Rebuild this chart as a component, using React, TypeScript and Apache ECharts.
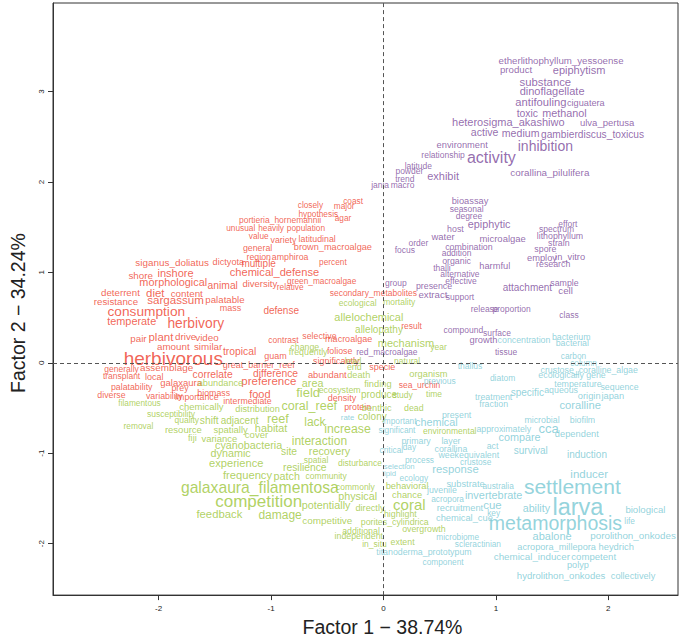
import React, { useEffect, useRef } from 'react';
import * as echarts from 'echarts';

const FONT = '"Liberation Sans", Arial, Helvetica, sans-serif';

// [word, factor1, factor2, weight]
type W = [string, number, number, number];

const purpleWords: W[] = [
  ['etherlithophyllum_yessoense', 1.58, 3.34, 9.7],
  ['product', 1.18, 3.24, 9.7],
  ['epiphytism', 1.74, 3.24, 11],
  ['substance', 1.44, 3.11, 11.3],
  ['dinoflagellate', 1.5, 3.01, 11],
  ['antifouling', 1.4, 2.89, 11.2],
  ['ciguatera', 1.8, 2.87, 9.2],
  ['toxic', 1.28, 2.76, 10.4],
  ['methanol', 1.61, 2.76, 10.8],
  ['heterosigma_akashiwo', 1.11, 2.66, 11],
  ['ulva_pertusa', 1.99, 2.66, 9.5],
  ['active', 0.9, 2.55, 10.6],
  ['medium', 1.22, 2.54, 10.6],
  ['gambierdiscus_toxicus', 1.86, 2.52, 10.2],
  ['environment', 0.7, 2.41, 9.3],
  ['inhibition', 1.44, 2.4, 14],
  ['activity', 0.96, 2.27, 16],
  ['corallina_pilulifera', 1.48, 2.11, 9.9],
  ['relationship', 0.53, 2.3, 8.5],
  ['latitude', 0.31, 2.18, 8.5],
  ['powder', 0.23, 2.12, 8.5],
  ['trend', 0.19, 2.03, 8.5],
  ['exhibit', 0.53, 2.07, 11],
  ['jania', -0.03, 1.97, 8.5],
  ['macro', 0.17, 1.97, 8.5],
  ['bioassay', 0.77, 1.79, 9.3],
  ['seasonal', 0.74, 1.7, 8.5],
  ['degree', 0.76, 1.62, 8.5],
  ['epiphytic', 0.94, 1.53, 10.8],
  ['host', 0.64, 1.48, 8.8],
  ['effort', 1.64, 1.53, 8.5],
  ['spectrum', 1.54, 1.48, 8.5],
  ['lithophyllum', 1.57, 1.4, 8.8],
  ['water', 0.53, 1.4, 9.5],
  ['microalgae', 1.06, 1.37, 9.5],
  ['strain', 1.56, 1.32, 8.8],
  ['order', 0.31, 1.33, 8.5],
  ['combination', 0.76, 1.28, 8.8],
  ['focus', 0.19, 1.25, 8.5],
  ['spore', 1.44, 1.26, 8.8],
  ['addition', 0.65, 1.21, 8.5],
  ['employ', 1.41, 1.16, 9.3],
  ['in_vitro', 1.66, 1.17, 9.3],
  ['organic', 0.65, 1.13, 8.8],
  ['research', 1.51, 1.09, 8.8],
  ['thalli', 0.52, 1.05, 8.5],
  ['harmful', 0.99, 1.07, 9.3],
  ['alternative', 0.68, 0.98, 8.5],
  ['effective', 0.69, 0.9, 8.5],
  ['group', 0.11, 0.88, 8.5],
  ['presence', 0.45, 0.85, 8.8],
  ['sample', 1.61, 0.88, 8.8],
  ['attachment', 1.28, 0.83, 10],
  ['cell', 1.62, 0.8, 9.7],
  ['extract', 0.44, 0.76, 9.7],
  ['support', 0.68, 0.73, 8.5],
  ['release', 0.9, 0.6, 8.5],
  ['proportion', 1.14, 0.6, 8.5],
  ['class', 1.65, 0.53, 8.5],
  ['compound', 0.71, 0.36, 8.5],
  ['surface', 1.01, 0.33, 8.5],
  ['growth', 0.89, 0.25, 9.3],
  ['tissue', 1.09, 0.12, 8.5],
  ['red_macroalgae', 0.03, 0.12, 8.5],
];

const redWords: W[] = [
  ['result', 0.25, 0.41, 8.5],
  ['specie', -0.01, -0.05, 9],
  ['sea_urchin', 0.32, -0.25, 8.5],
  ['portieria_hornemannii', -0.92, 1.58, 8.5],
  ['unusual', -1.27, 1.49, 8.3],
  ['heavily', -1.0, 1.49, 8.3],
  ['population', -0.69, 1.49, 8.3],
  ['value', -1.11, 1.4, 8.3],
  ['variety', -0.89, 1.36, 8.8],
  ['latitudinal', -0.59, 1.37, 8.8],
  ['general', -1.12, 1.27, 8.8],
  ['brown_macroalgae', -0.45, 1.28, 9.2],
  ['region', -1.11, 1.17, 8.8],
  ['amphiroa', -0.83, 1.17, 8.8],
  ['multiple', -1.11, 1.1, 10],
  ['dictyota', -1.38, 1.11, 9.2],
  ['siganus_doliatus', -1.88, 1.11, 9.9],
  ['percent', -0.45, 1.11, 8.3],
  ['chemical_defense', -0.97, 1.0, 11.1],
  ['closely', -0.65, 1.74, 8.3],
  ['hypothesis', -0.58, 1.65, 8.3],
  ['coast', -0.27, 1.79, 8.3],
  ['major', -0.35, 1.73, 8.3],
  ['agar', -0.36, 1.6, 8.3],
  ['shore', -2.16, 0.97, 9.8],
  ['inshore', -1.85, 0.99, 11],
  ['morphological', -1.87, 0.89, 10.9],
  ['animal', -1.43, 0.85, 10.3],
  ['diversity', -1.1, 0.88, 9.5],
  ['green_macroalgae', -0.55, 0.91, 8.3],
  ['relative', -0.83, 0.84, 8.3],
  ['deterrent', -2.34, 0.78, 9.7],
  ['diet', -2.03, 0.77, 11.4],
  ['content', -1.75, 0.77, 9.8],
  ['resistance', -2.38, 0.68, 9.7],
  ['sargassum', -1.85, 0.7, 11.6],
  ['palatable', -1.41, 0.7, 9.7],
  ['mass', -1.36, 0.61, 9],
  ['defense', -0.91, 0.58, 10],
  ['secondary_metabolites', -0.09, 0.77, 8.5],
  ['consumption', -2.11, 0.57, 13.7],
  ['temperate', -2.24, 0.46, 10.9],
  ['herbivory', -1.67, 0.43, 13.8],
  ['pair', -2.18, 0.27, 9.8],
  ['plant', -1.98, 0.29, 11.5],
  ['drive', -1.76, 0.29, 9.8],
  ['video', -1.57, 0.28, 9.8],
  ['amount', -1.87, 0.18, 9.8],
  ['similar', -1.56, 0.18, 9.8],
  ['tropical', -1.28, 0.13, 10.3],
  ['herbivorous', -1.87, 0.05, 19],
  ['generally', -2.33, -0.07, 8.5],
  ['assemblage', -1.93, -0.05, 9.9],
  ['transplant', -2.33, -0.15, 8.5],
  ['local', -2.04, -0.16, 9],
  ['correlate', -1.52, -0.13, 10.3],
  ['great_barrier_reef', -1.11, -0.03, 9],
  ['difference', -0.96, -0.12, 10.3],
  ['galaxaura', -1.8, -0.22, 9.5],
  ['preference', -1.02, -0.2, 11.5],
  ['palatability', -2.24, -0.27, 8.8],
  ['prey', -1.81, -0.28, 8.8],
  ['diverse', -2.42, -0.36, 8.8],
  ['variability', -1.95, -0.37, 8.8],
  ['importance', -1.66, -0.38, 8.8],
  ['biomass', -1.51, -0.33, 8.8],
  ['food', -1.1, -0.34, 11],
  ['intermediate', -1.21, -0.42, 8.8],
  ['selective', -0.57, 0.3, 8.8],
  ['contrast', -0.89, 0.25, 8.5],
  ['macroalgae', -0.31, 0.26, 9],
  ['foliose', -0.39, 0.13, 8.8],
  ['guam', -0.96, 0.08, 9],
  ['significantly', -0.42, 0.02, 9],
  ['abundant', -0.5, -0.13, 9.3],
  ['density', -0.37, -0.39, 9],
  ['protein', -0.23, -0.49, 8.8],
];

const greenWords: W[] = [
  ['ecological', -0.23, 0.66, 8.5],
  ['mortality', 0.14, 0.67, 8.5],
  ['allelochemical', -0.13, 0.51, 11],
  ['allelopathy', -0.04, 0.37, 10],
  ['mechanism', 0.2, 0.22, 11],
  ['year', 0.49, 0.18, 8.5],
  ['natural', 0.21, 0.02, 8.5],
  ['organism', 0.4, -0.12, 9.3],
  ['finding', -0.05, -0.24, 9.3],
  ['study', 0.17, -0.36, 8.5],
  ['time', 0.45, -0.35, 8.5],
  ['produce', -0.04, -0.35, 10],
  ['benthic', -0.06, -0.5, 9.3],
  ['dead', 0.27, -0.5, 8.8],
  ['colony', -0.1, -0.59, 10],
  ['environmental', 0.59, -0.76, 8.5],
  ['behavioral', 0.21, -1.36, 9.3],
  ['chance', 0.21, -1.46, 9.3],
  ['coral', 0.23, -1.57, 15],
  ['highlight', 0.15, -1.67, 8.8],
  ['porites_cylindrica', 0.1, -1.76, 8.8],
  ['overgrowth', 0.36, -1.84, 8.8],
  ['extent', 0.17, -1.98, 8.8],
  ['in_situ', -0.08, -2.0, 8.5],
  ['independent', -0.22, -1.92, 8.8],
  ['additional', -0.2, -1.86, 8.8],
  ['abundance', -1.45, -0.22, 9.2],
  ['filamentous', -2.17, -0.45, 8.3],
  ['chemically', -1.62, -0.48, 9.5],
  ['distribution', -1.12, -0.51, 9.2],
  ['susceptibility', -1.89, -0.57, 8.5],
  ['quality', -1.75, -0.63, 8.5],
  ['shift', -1.55, -0.64, 10.3],
  ['adjacent', -1.28, -0.64, 10],
  ['removal', -2.18, -0.7, 8.4],
  ['resource', -1.78, -0.74, 9.5],
  ['spatially', -1.36, -0.74, 9.5],
  ['fiji', -1.7, -0.83, 9.2],
  ['variance', -1.46, -0.84, 9.5],
  ['cover', -1.13, -0.79, 9.5],
  ['habitat', -1.0, -0.72, 10.8],
  ['reef', -0.94, -0.62, 12.6],
  ['cyanobacteria', -1.2, -0.91, 10.8],
  ['dynamic', -1.36, -1.0, 10.8],
  ['experience', -1.31, -1.11, 11.1],
  ['frequency', -1.21, -1.24, 11.2],
  ['galaxaura_filamentosa', -1.1, -1.38, 15.7],
  ['competition', -1.11, -1.53, 17],
  ['feedback', -1.46, -1.67, 11.3],
  ['damage', -0.92, -1.68, 12],
  ['site', -0.84, -0.98, 10.3],
  ['recovery', -0.48, -0.98, 10.8],
  ['interaction', -0.57, -0.87, 12],
  ['spatial', -0.6, -1.08, 8.5],
  ['disturbance', -0.21, -1.11, 8.5],
  ['resilience', -0.7, -1.16, 10.3],
  ['patch', -0.86, -1.25, 10.8],
  ['community', -0.51, -1.25, 8.5],
  ['commonly', -0.25, -1.37, 8.5],
  ['physical', -0.23, -1.47, 10.8],
  ['potentially', -0.51, -1.57, 10.8],
  ['directly', -0.12, -1.61, 9.2],
  ['competitive', -0.5, -1.75, 9.9],
  ['change', -0.7, 0.18, 8.8],
  ['frequently', -0.67, 0.12, 8.8],
  ['lead', -0.27, 0.02, 8.8],
  ['end', -0.26, -0.05, 8.8],
  ['death', -0.22, -0.14, 9.2],
  ['area', -0.63, -0.22, 10.8],
  ['field', -0.67, -0.33, 13],
  ['ecosystem', -0.39, -0.3, 8.8],
  ['coral_reef', -0.66, -0.48, 12.5],
  ['lack', -0.61, -0.65, 12],
  ['increase', -0.32, -0.73, 12.3],
];

const cyanWords: W[] = [
  ['concentration', 1.25, 0.25, 8.8],
  ['thallus', 0.77, -0.04, 8.5],
  ['previous', 0.5, -0.2, 8.5],
  ['diatom', 1.06, -0.17, 8.5],
  ['specific', 1.28, -0.33, 10],
  ['treatment', 0.98, -0.38, 8.8],
  ['fraction', 0.98, -0.46, 8.8],
  ['present', 0.65, -0.58, 8.8],
  ['important', 0.14, -0.64, 8.3],
  ['chemical', 0.47, -0.65, 10.8],
  ['microbial', 1.41, -0.63, 8.8],
  ['rate', -0.32, -0.6, 7.8],
  ['significant', 0.12, -0.74, 8.3],
  ['approximately', 1.07, -0.73, 8.8],
  ['cca', 1.47, -0.73, 13],
  ['compare', 1.21, -0.82, 10.8],
  ['primary', 0.29, -0.86, 8.8],
  ['layer', 0.6, -0.86, 8.8],
  ['day', 0.23, -0.93, 8.3],
  ['corallina', 0.6, -0.95, 8.8],
  ['act', 0.97, -0.92, 8.8],
  ['survival', 1.31, -0.97, 10],
  ['critical', 0.07, -0.97, 8.3],
  ['process', 0.32, -1.07, 8.3],
  ['week', 0.58, -1.02, 8.8],
  ['equivalent', 0.85, -1.02, 8.8],
  ['crustose', 0.82, -1.1, 8.3],
  ['selection', 0.14, -1.15, 7.8],
  ['lipid', 0.05, -1.22, 7.8],
  ['response', 0.64, -1.18, 11.3],
  ['ecology', 0.27, -1.28, 8.3],
  ['substrate', 0.73, -1.34, 9.3],
  ['australia', 1.02, -1.36, 8.3],
  ['juvenile', 0.52, -1.41, 8.8],
  ['invertebrate', 0.98, -1.46, 10.9],
  ['acropora', 0.57, -1.51, 8.3],
  ['cue', 0.97, -1.57, 11.4],
  ['ability', 1.36, -1.61, 10.7],
  ['recruitment', 0.68, -1.61, 9.3],
  ['key', 0.98, -1.66, 8.3],
  ['chemical_cue', 0.72, -1.72, 9.3],
  ['metamorphosis', 1.53, -1.77, 19.5],
  ['microbiome', 0.66, -1.93, 8.3],
  ['scleractinian', 0.84, -2.0, 8.3],
  ['abalone', 1.5, -1.92, 11],
  ['porolithon_onkodes', 2.22, -1.91, 9.8],
  ['titanoderma_prototypum', 0.36, -2.09, 8.8],
  ['acropora_millepora', 1.54, -2.04, 9.2],
  ['heydrich', 2.07, -2.03, 9.4],
  ['chemical_inducer', 1.32, -2.14, 9.8],
  ['competent', 1.87, -2.14, 9.6],
  ['component', 0.53, -2.2, 8.3],
  ['polyp', 1.73, -2.24, 9.2],
  ['hydrolithon_onkodes', 1.58, -2.35, 9.6],
  ['collectively', 2.22, -2.36, 9.2],
  ['settlement', 1.68, -1.37, 21],
  ['larva', 1.73, -1.59, 23.5],
  ['biological', 2.33, -1.62, 9.6],
  ['life', 2.19, -1.75, 8.3],
  ['inducer', 1.83, -1.23, 11.5],
  ['induction', 1.81, -1.02, 10],
  ['bacterium', 1.67, 0.28, 8.8],
  ['bacterial', 1.68, 0.22, 8.8],
  ['carbon', 1.69, 0.07, 8.3],
  ['column', 1.78, 0.0, 8.3],
  ['crustose_coralline_algae', 1.83, -0.08, 8.8],
  ['ecologically', 1.58, -0.14, 8.8],
  ['gene', 1.89, -0.14, 8.8],
  ['temperature', 1.73, -0.24, 8.8],
  ['sequence', 2.1, -0.27, 8.8],
  ['aqueous', 1.58, -0.3, 8.8],
  ['origin', 1.83, -0.37, 9.3],
  ['japan', 2.04, -0.37, 9.3],
  ['coralline', 1.75, -0.47, 11.2],
  ['biofilm', 1.77, -0.63, 8.8],
  ['dependent', 1.72, -0.79, 9.3],
];

const xTicks = [-2, -1, 0, 1, 2];
const yTicks = [-2, -1, 0, 1, 2, 3];
const xTitle = 'Factor 1 \u2212 38.74%';
const yTitle = 'Factor 2 \u2212 34.24%';

const clusters: { words: W[]; color: string }[] = [
  { words: redWords, color: '#EE3D2B' },
  { words: greenWords, color: '#9CC63A' },
  { words: cyanWords, color: '#78C8D3' },
  { words: purpleWords, color: '#7A4899' },
];

function makeSeries(words: W[], color: string, withLines: boolean) {
  const s: any = {
    type: 'scatter',
    symbol: 'circle',
    symbolSize: 1,
    silent: true,
    itemStyle: { color: 'rgba(0,0,0,0)' },
    label: {
      show: true,
      position: 'inside',
      formatter: '{b}',
      color,
      fontFamily: FONT,
    },
    labelLayout: { hideOverlap: false },
    data: words.map(([w, x, y, wt]) => ({
      name: w,
      value: [x, y],
      label: { fontSize: wt },
    })),
  };
  if (withLines) {
    s.markLine = {
      silent: true,
      symbol: ['none', 'none'],
      label: { show: false },
      lineStyle: { type: [4, 3], color: '#555', width: 1 },
      data: [{ xAxis: 0 }, { yAxis: 0 }],
    };
  }
  return s;
}

export default function App() {
  const ref = useRef<HTMLDivElement>(null);
  useEffect(() => {
    const chart = echarts.init(ref.current!, null, { renderer: 'svg' });
    const option: any = {
      animation: false,
      backgroundColor: '#ffffff',
      grid: {
        left: 48,
        right: 7,
        top: 3,
        bottom: 37,
        show: true,
        borderColor: '#333',
        borderWidth: 1,
        containLabel: false,
      },
      xAxis: {
        type: 'value',
        min: -2.94,
        max: 2.62,
        name: xTitle,
        nameLocation: 'middle',
        nameGap: 20,
        nameTextStyle: { fontSize: 19.5, color: '#222', fontFamily: FONT, padding: [0, 0, 0, 34] },
        axisLine: { show: true, onZero: false, lineStyle: { color: '#333' } },
        axisTick: { show: true, length: 5, customValues: xTicks, lineStyle: { color: '#333' } },
        axisLabel: { customValues: xTicks, fontSize: 8, color: '#222', fontFamily: FONT, margin: 9 },
        splitLine: { show: false },
      },
      yAxis: {
        type: 'value',
        min: -2.57,
        max: 3.98,
        name: yTitle,
        nameLocation: 'middle',
        nameGap: 25,
        nameTextStyle: { fontSize: 19.5, color: '#222', fontFamily: FONT, padding: [0, 28, 0, 0] },
        axisLine: { show: true, onZero: false, lineStyle: { color: '#333' } },
        axisTick: { show: true, length: 5, customValues: yTicks, lineStyle: { color: '#333' } },
        axisLabel: { customValues: yTicks, fontSize: 8, color: '#222', fontFamily: FONT, rotate: 90, margin: 8 },
        splitLine: { show: false },
      },
      series: clusters.map((c, i) => makeSeries(c.words, c.color, i === 0)),
    };
    chart.setOption(option);
    return () => chart.dispose();
  }, []);
  return (
    <div
      ref={ref}
      style={{ position: 'fixed', left: 0, top: 0, width: 685, height: 642, background: '#fff' }}
    />
  );
}
